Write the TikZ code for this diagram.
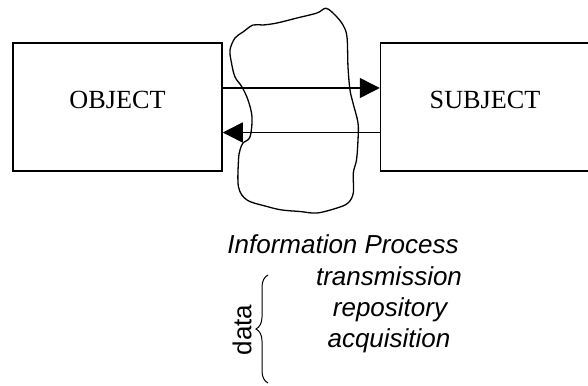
\documentclass[tikz,border=0pt]{standalone}
\usepackage{fontspec}
\setmainfont{Liberation Serif}
\setsansfont{Liberation Sans}
\usetikzlibrary{arrows.meta,decorations.pathreplacing}
\begin{document}
\begin{tikzpicture}[x=1pt,y=1pt,
  box/.style={draw=black,line width=1.5pt,minimum width=209pt,minimum height=128pt,inner sep=0pt,
    font=\fontsize{26.2}{30}\selectfont,text height=17pt,text depth=13pt},
  flow/.style={line width=1.5pt,-{Triangle[length=20pt,width=20pt]}},
  lbl/.style={font=\sffamily\itshape\fontsize{26}{31}\selectfont,inner sep=0pt,anchor=base},
  dlbl/.style={font=\sffamily\fontsize{26}{31}\selectfont,inner sep=0pt,anchor=center,rotate=90},
  blob/.style={line width=1.3pt,line join=round},
  bracestyle/.style={line width=1pt,decorate,decoration={brace,amplitude=12pt}}]
\useasboundingbox (0,0) rectangle (588,-385);
\clip (0,0) rectangle (588,-385);

\node[box] (obj) at (117.5,-107) {OBJECT};
\node[box] (subj) at (485,-107) {SUBJECT};

\draw[flow] ([yshift=19pt]obj.east) -- ([yshift=19pt]subj.west);
\draw[flow] ([yshift=-25.5pt]subj.west) -- ([yshift=-25.5pt]obj.east);

\draw[blob] plot[smooth cycle, tension=0.55] coordinates {
 (326,-8.3) (335,-15) (343,-25) (347,-37) (348,-67) (350,-90) (353,-103)
 (358,-123) (358,-140) (356.5,-160) (353.3,-173) (353.3,-193) (348,-203)
 (337,-208) (317,-213) (300,-211.5) (282,-210) (267,-206.5) (247,-200)
 (238.5,-187) (238.5,-160) (240,-150) (243,-143) (250,-137) (252,-117)
 (248,-100) (242,-87) (235,-77) (231.5,-63) (230,-50) (235,-38) (243,-32)
 (253,-25) (263,-25) (277,-23) (297,-18) (317,-13)};

\node[lbl] (info) at (343,-253) {Information Process};
\node[lbl] (trans) at (389,-285) {transmission};
\node[lbl] (repo) at (390,-316) {repository};
\node[lbl] (acq) at (389,-347) {acquisition};

\node[dlbl] (data) at (242,-330) {data};
\draw[bracestyle] (268,-383) -- (268,-275);
\end{tikzpicture}
\end{document}
